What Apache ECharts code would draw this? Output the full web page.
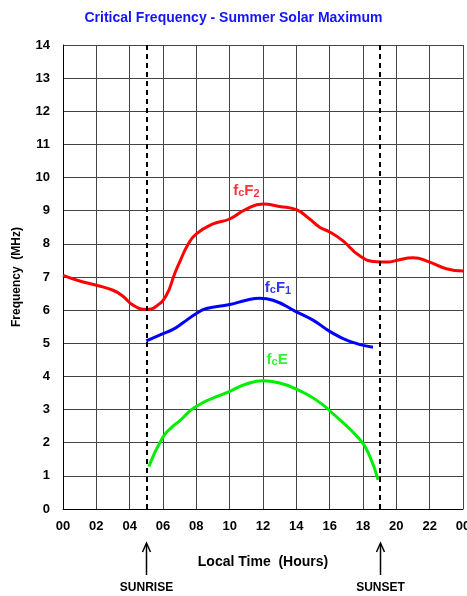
<!DOCTYPE html>
<html><head><meta charset="utf-8">
<script src="https://cdn.jsdelivr.net/npm/echarts@6/dist/echarts.min.js"></script>
<style>html,body{margin:0;padding:0;background:#fff}#c{width:467px;height:596px}</style>
</head><body><div id="c"></div>
<script>
const titleText = 'Critical Frequency - Summer Solar Maximum';
const xTickLabels = ['00','02','04','06','08','10','12','14','16','18','20','22','00'];
const yTickLabels = ['0','1','2','3','4','5','6','7','8','9','10','11','12','13','14'];
const xAxisName = 'Local Time  (Hours)';
const yAxisName = 'Frequency  (MHz)';

const f2Hours  = [0, 1, 2, 3, 3.6, 4.2, 5, 5.6, 6.2, 6.7, 7.0, 7.5, 8.0, 9.0, 10.0, 11.0, 12.0, 13.0, 14.0, 14.8, 15.4, 16.0, 16.8, 17.8, 18.8, 19.5, 20.0, 21.0, 22.0, 23.0, 24.0];
const f2Values = [7.05, 6.88, 6.75, 6.6, 6.42, 6.15, 6.02, 6.12, 6.45, 7.1, 7.45, 7.98, 8.3, 8.6, 8.75, 9.05, 9.2, 9.13, 9.03, 8.75, 8.5, 8.36, 8.09, 7.64, 7.46, 7.45, 7.5, 7.58, 7.45, 7.25, 7.18];

const f1Hours  = [5.0, 5.9, 6.6, 7.2, 8.0, 8.6, 10.0, 11.0, 11.8, 12.6, 14.0, 15.0, 16.0, 17.2, 18.6];
const f1Values = [5.07, 5.27, 5.42, 5.62, 5.9, 6.05, 6.17, 6.3, 6.36, 6.3, 5.95, 5.7, 5.36, 5.06, 4.88];

const eHours  = [5.15, 6.0, 6.6, 7.0, 8.0, 10.0, 11.0, 12.0, 13.0, 14.0, 14.84, 15.44, 16.04, 17.84, 18.44, 18.9];
const eValues = [1.28, 2.17, 2.5, 2.66, 3.1, 3.55, 3.77, 3.87, 3.8, 3.62, 3.4, 3.2, 2.95, 2.08, 1.55, 0.88];

const sunriseHour = 5, sunsetHour = 19;
const sunLabels = ['SUNRISE', 'SUNSET'];
const curveLabels = [
  {pos: [11.0, 9.6], big: ['f', 'F'], small: ['c', '2'], color: '#ff0000'},
  {pos: [12.9, 6.68], big: ['f', 'F'], small: ['c', '1'], color: '#0000ff'},
  {pos: [12.85, 4.5], big: ['f', 'E'], small: ['c', ''], color: '#00ee00'}
];

const pairs = (xs, ys) => xs.map((x, i) => [x, ys[i]]);
const FONT = 'Liberation Sans, Arial, sans-serif';

function labelSeries(l) {
  return {
    type: 'scatter', data: [l.pos], symbolSize: 2, silent: true, z: 5,
    itemStyle: {color: 'rgba(0,0,0,0)'},
    label: {
      show: true, position: 'inside',
      formatter: '{a|' + l.big[0] + '}{b|' + l.small[0] + '}{a|' + l.big[1] + '}' + (l.small[1] ? '{c|' + l.small[1] + '}' : ''),
      rich: {
        a: {fontFamily: FONT, fontSize: 15, fontWeight: 'bold', color: l.color},
        b: {fontFamily: FONT, fontSize: 11, fontWeight: 'bold', color: l.color, padding: [4, 0, 0, 0]},
        c: {fontFamily: FONT, fontSize: 11, fontWeight: 'bold', color: l.color, padding: [7, 0, 0, 0]}
      }
    }
  };
}

const chart = echarts.init(document.getElementById('c'), null, {renderer: 'canvas'});
const option = {
  animation: false,
  backgroundColor: '#fff',
  title: {text: titleText, left: 'center', top: 6,
    textStyle: {fontFamily: FONT, fontSize: 14, fontWeight: 'bold', color: '#1414ff'}},
  grid: {left: 63, right: 4, top: 45, bottom: 87, outerBoundsMode: 'none', containLabel: false},
  xAxis: {
    type: 'value', min: 0, max: 24, interval: 2,
    name: xAxisName, nameLocation: 'middle', nameGap: 46,
    nameTextStyle: {fontFamily: FONT, fontSize: 14, fontWeight: 'bold', color: '#000'},
    axisLine: {lineStyle: {color: '#000', width: 1}},
    axisTick: {show: false},
    axisLabel: {margin: 11, fontFamily: FONT, fontSize: 13, fontWeight: 'bold', color: '#000',
      formatter: v => xTickLabels[Math.round(v / 2)]},
    splitLine: {show: true, lineStyle: {color: '#444', width: 1}}
  },
  yAxis: {
    type: 'value', min: 0, max: 14, interval: 1,
    name: yAxisName, nameLocation: 'middle', nameGap: 40,
    nameTextStyle: {fontFamily: FONT, fontSize: 12, fontWeight: 'bold', color: '#000'},
    axisLine: {show: true, lineStyle: {color: '#000', width: 1}},
    axisTick: {show: false},
    axisLabel: {margin: 13, fontFamily: FONT, fontSize: 13, fontWeight: 'bold', color: '#000',
      formatter: v => yTickLabels[Math.round(v)]},
    splitLine: {show: true, lineStyle: {color: '#444', width: 1}}
  },
  series: [
    {type: 'line', name: 'fcF2', data: pairs(f2Hours, f2Values), smooth: 0.5, showSymbol: false,
      lineStyle: {color: '#ff0000', width: 3}, z: 3,
      markLine: {silent: true, symbol: 'none', label: {show: false},
        lineStyle: {color: '#000', type: [5, 4], width: 2},
        data: [{xAxis: sunriseHour}, {xAxis: sunsetHour}]}},
    {type: 'line', name: 'fcF1', data: pairs(f1Hours, f1Values), smooth: 0.5, showSymbol: false,
      lineStyle: {color: '#0000ff', width: 3}, z: 3},
    {type: 'line', name: 'fcE', data: pairs(eHours, eValues), smooth: 0.5, showSymbol: false,
      lineStyle: {color: '#00ee00', width: 3}, z: 3}
  ].concat(curveLabels.map(labelSeries))
};
chart.setOption(option);

const gfx = [];
[sunriseHour, sunsetHour].forEach((h, i) => {
  const x = Math.round(chart.convertToPixel({xAxisIndex: 0}, h)) + 0.5;
  gfx.push({type: 'line', shape: {x1: x, y1: 575, x2: x, y2: 544}, style: {stroke: '#000', lineWidth: 1.5}});
  gfx.push({type: 'polyline', shape: {points: [[x - 4, 552], [x, 543], [x + 4, 552]]}, style: {stroke: '#000', lineWidth: 1.5, fill: null}});
  gfx.push({type: 'text', x: x, y: 588, style: {text: sunLabels[i], fontFamily: FONT, fontSize: 12, fontWeight: 'bold', fill: '#000', align: 'center', verticalAlign: 'middle'}});
});
chart.setOption({graphic: gfx});
</script>
</body></html>
